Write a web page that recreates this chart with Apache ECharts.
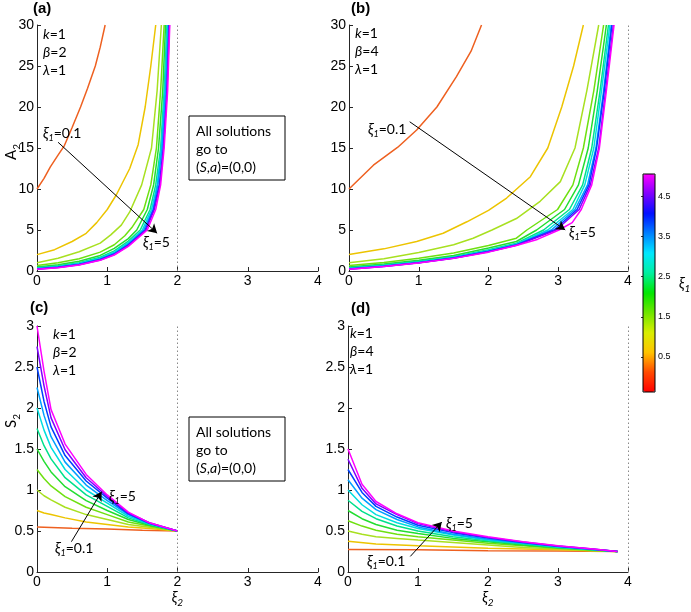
<!DOCTYPE html>
<html><head><meta charset="utf-8">
<script src="https://cdn.jsdelivr.net/npm/echarts@6/dist/echarts.min.js"></script>
<style>html,body{margin:0;padding:0;background:#fff}#c{width:691px;height:612px}</style>
</head><body><div id="c"></div>
<script>
// ---------- data ----------
const xi1Values = [0.1, 0.5, 1, 1.5, 2, 2.5, 3, 3.5, 4, 4.5, 5];
const curveColors = ['#ee6020','#ecc400','#a8e020','#6ee010','#22dd30','#00e08c','#00dede','#00a0ff','#0040ff','#8000ff','#ff00ff'];
const xTicks = [0, 1, 2, 3, 4];
const colorbarTicks = [0.5, 1.5, 2.5, 3.5, 4.5];
const colorbarRange = [-0.375, 5.06];
const colorbarStops = ['#ff0000','#ff4a00','#ffc400','#d8ee00','#6fe600','#00e600','#00f0a0','#00e8ff','#0080ff','#0010ff','#8000ff','#ff00ff'];

// panel (a): A2 vs xi2, beta=2
const panelA = [
  [[0,10],[0.1,11.3],[0.19,12.7],[0.29,14],[0.39,15.3],[0.5,17.5],[0.62,20],[0.72,22.3],[0.83,25],[0.9,27.3],[0.97,30]],
  [[0,2],[0.25,2.6],[0.5,3.6],[0.7,4.6],[0.85,5.9],[1,7.5],[1.13,9.3],[1.32,12.5],[1.44,15.4],[1.54,20],[1.62,25],[1.69,30]],
  [[0,1],[0.3,1.55],[0.6,2.35],[0.9,3.4],[1.05,4.4],[1.2,5.6],[1.32,7.2],[1.49,10.5],[1.63,15],[1.71,22],[1.77,30]],
  [[0,0.67],[0.3,1],[0.6,1.5],[0.9,2.3],[1.1,3.2],[1.25,4.3],[1.35,5.3],[1.52,7.5],[1.62,10.5],[1.7,15],[1.76,22],[1.81,30]],
  [[0,0.5],[0.3,0.77],[0.6,1.2],[0.9,1.9],[1.1,2.75],[1.3,3.95],[1.42,5],[1.57,7.5],[1.66,10.5],[1.73,15],[1.79,22],[1.83,30]],
  [[0,0.4],[0.3,0.63],[0.6,1.02],[0.9,1.68],[1.1,2.45],[1.3,3.65],[1.47,5],[1.61,7.5],[1.69,10.5],[1.76,15],[1.81,22],[1.85,30]],
  [[0,0.33],[0.3,0.55],[0.6,0.92],[0.9,1.55],[1.1,2.28],[1.3,3.45],[1.5,5],[1.63,7.5],[1.71,10.5],[1.77,15],[1.82,22],[1.86,30]],
  [[0,0.29],[0.3,0.5],[0.6,0.85],[0.9,1.46],[1.1,2.16],[1.3,3.3],[1.52,5],[1.65,7.5],[1.72,10.5],[1.78,15],[1.83,22],[1.87,30]],
  [[0,0.25],[0.3,0.46],[0.6,0.8],[0.9,1.4],[1.1,2.07],[1.3,3.2],[1.54,5],[1.66,7.5],[1.74,10.5],[1.8,15],[1.85,22],[1.88,30]],
  [[0,0.22],[0.3,0.43],[0.6,0.76],[0.9,1.35],[1.1,2],[1.3,3.1],[1.55,5],[1.67,7.5],[1.75,10.5],[1.8,15],[1.85,22],[1.885,30]],
  [[0,0.2],[0.3,0.4],[0.6,0.72],[0.9,1.3],[1.1,1.95],[1.3,3],[1.57,5],[1.69,7.5],[1.76,10.5],[1.81,15],[1.86,22],[1.89,30]]
];
// panel (b): A2 vs xi2, beta=4
const panelB = [
  [[0,10],[0.35,12.9],[0.7,15.1],[0.97,17.2],[1.26,20],[1.54,23.7],[1.75,26.8],[1.9,30]],
  [[0,2],[0.5,2.7],[0.97,3.6],[1.35,4.6],[1.69,6],[2,7.4],[2.26,8.9],[2.6,11.5],[2.85,15],[3.05,20],[3.22,25],[3.36,30]],
  [[0,1],[0.5,1.5],[1,2.25],[1.5,3.2],[1.78,4],[2.05,5],[2.4,6.4],[2.74,8.5],[3.03,10.9],[3.24,15],[3.41,22],[3.58,30]],
  [[0,0.67],[0.5,1.05],[1,1.55],[1.5,2.2],[2,3.1],[2.4,4],[2.55,5],[2.99,7.5],[3.21,10.5],[3.36,15],[3.51,22],[3.65,30]],
  [[0,0.5],[0.5,0.85],[1,1.3],[1.5,1.9],[2,2.8],[2.4,3.6],[2.69,5],[3.09,7.5],[3.29,10.5],[3.43,15],[3.56,22],[3.69,30]],
  [[0,0.4],[0.5,0.73],[1,1.18],[1.5,1.75],[2,2.6],[2.4,3.4],[2.79,5],[3.16,7.5],[3.35,10.5],[3.48,15],[3.6,22],[3.72,30]],
  [[0,0.33],[0.5,0.66],[1,1.1],[1.5,1.67],[2,2.5],[2.4,3.3],[2.85,5],[3.21,7.5],[3.38,10.5],[3.51,15],[3.62,22],[3.74,30]],
  [[0,0.29],[0.5,0.61],[1,1.05],[1.5,1.62],[2,2.43],[2.4,3.22],[2.9,5],[3.24,7.5],[3.42,10.5],[3.54,15],[3.65,22],[3.76,30]],
  [[0,0.25],[0.5,0.58],[1,1.02],[1.5,1.58],[2,2.38],[2.4,3.17],[2.94,5],[3.27,7.5],[3.44,10.5],[3.55,15],[3.66,22],[3.77,30]],
  [[0,0.22],[0.5,0.56],[1,1],[1.5,1.56],[2,2.34],[2.4,3.13],[2.97,5],[3.3,7.5],[3.46,10.5],[3.58,15],[3.68,22],[3.79,30]],
  [[0,0.2],[0.5,0.54],[1,0.98],[1.5,1.54],[2,2.3],[2.4,3.1],[2.7,3.85],[3.01,5],[3.2,5.9],[3.33,7.5],[3.48,10.5],[3.59,15],[3.69,22],[3.8,30]]
];
// panel (c): S2 vs xi2, beta=2
const panelC = [
  [[0,0.55],[0.5,0.535],[1,0.525],[1.5,0.51],[2,0.5]],
  [[0,0.75],[0.1,0.72],[0.2,0.7],[0.4,0.66],[0.7,0.61],[1,0.58],[1.3,0.55],[1.6,0.53],[2,0.5]],
  [[0,1],[0.1,0.93],[0.2,0.88],[0.4,0.79],[0.7,0.7],[1,0.64],[1.3,0.58],[1.6,0.545],[2,0.5]],
  [[0,1.25],[0.1,1.14],[0.2,1.05],[0.4,0.92],[0.7,0.79],[1,0.7],[1.3,0.61],[1.6,0.56],[2,0.5]],
  [[0,1.5],[0.1,1.35],[0.2,1.22],[0.4,1.04],[0.7,0.87],[1,0.75],[1.3,0.64],[1.6,0.57],[2,0.5]],
  [[0,1.75],[0.1,1.54],[0.2,1.38],[0.4,1.15],[0.7,0.94],[1,0.8],[1.3,0.66],[1.6,0.58],[2,0.5]],
  [[0,2],[0.1,1.73],[0.2,1.52],[0.4,1.25],[0.7,1],[1,0.84],[1.3,0.68],[1.6,0.585],[2,0.5]],
  [[0,2.25],[0.1,1.91],[0.2,1.65],[0.4,1.34],[0.7,1.06],[1,0.87],[1.3,0.7],[1.6,0.59],[2,0.5]],
  [[0,2.5],[0.1,2.08],[0.2,1.77],[0.4,1.42],[0.7,1.11],[1,0.9],[1.3,0.71],[1.6,0.595],[2,0.5]],
  [[0,2.75],[0.1,2.27],[0.2,1.88],[0.4,1.49],[0.7,1.15],[1,0.92],[1.3,0.72],[1.6,0.6],[2,0.5]],
  [[0,3],[0.1,2.45],[0.2,1.98],[0.4,1.56],[0.7,1.19],[1,0.94],[1.3,0.73],[1.6,0.6],[2,0.5]]
];
// panel (d): S2 vs xi2, beta=4
const panelD = [
  [[0,0.275],[1,0.27],[2,0.26],[3,0.255],[3.85,0.25]],
  [[0,0.375],[0.4,0.34],[1,0.32],[2,0.29],[3,0.27],[3.85,0.25]],
  [[0,0.5],[0.2,0.46],[0.4,0.43],[0.7,0.41],[1,0.39],[1.5,0.36],[2,0.33],[2.5,0.3],[3,0.28],[3.5,0.26],[3.85,0.25]],
  [[0,0.625],[0.2,0.56],[0.4,0.51],[0.7,0.46],[1,0.43],[1.5,0.39],[2,0.35],[2.5,0.32],[3,0.29],[3.5,0.265],[3.85,0.25]],
  [[0,0.75],[0.2,0.65],[0.4,0.58],[0.7,0.51],[1,0.47],[1.5,0.41],[2,0.37],[2.5,0.33],[3,0.295],[3.5,0.27],[3.85,0.25]],
  [[0,0.875],[0.2,0.74],[0.4,0.65],[0.7,0.56],[1,0.5],[1.5,0.43],[2,0.38],[2.5,0.34],[3,0.3],[3.5,0.27],[3.85,0.25]],
  [[0,1],[0.2,0.82],[0.4,0.7],[0.7,0.6],[1,0.53],[1.5,0.45],[2,0.39],[2.5,0.35],[3,0.305],[3.5,0.275],[3.85,0.25]],
  [[0,1.125],[0.2,0.9],[0.4,0.76],[0.7,0.64],[1,0.55],[1.5,0.46],[2,0.4],[2.5,0.355],[3,0.31],[3.5,0.275],[3.85,0.25]],
  [[0,1.25],[0.2,0.97],[0.4,0.8],[0.7,0.67],[1,0.57],[1.5,0.48],[2,0.415],[2.5,0.36],[3,0.315],[3.5,0.278],[3.85,0.25]],
  [[0,1.375],[0.2,1.02],[0.4,0.83],[0.7,0.7],[1,0.59],[1.5,0.49],[2,0.42],[2.5,0.365],[3,0.318],[3.5,0.28],[3.85,0.25]],
  [[0,1.5],[0.2,1.07],[0.4,0.86],[0.7,0.71],[1,0.6],[1.5,0.5],[2,0.43],[2.5,0.37],[3,0.32],[3.5,0.28],[3.85,0.25]]
];
// annotation arrows (data coords) and dotted limits
const arrowsAB = [[[0.30,15.7],[1.71,4.6]], [[0.87,18.2],[3.1,5.0]]];
const arrowsCD = [[[0.49,0.37],[0.92,0.98]], [[0.89,0.19],[1.34,0.61]]];
const dottedX = [2, 4, 2, 4];
const betaValues = [2, 4, 2, 4];

// ---------- chart ----------
const chart = echarts.init(document.getElementById('c'), null, {renderer: 'canvas'});
const AX = '#262626';
const tickFont = 'Liberation Sans';
const labelFont = 'Lato';

const grids = [
  {left: 37, top: 25, width: 281, height: 246},
  {left: 349, top: 25, width: 279, height: 246},
  {left: 37, top: 326, width: 281, height: 246},
  {left: 348, top: 326, width: 280, height: 246},
  {left: 643, top: 174, width: 12, height: 218, show: true, borderColor: '#000', borderWidth: 1, backgroundColor: 'transparent', z: 10}
].map(g => Object.assign({outerBoundsMode: 'none', containLabel: false}, g));

const subRich = {
  m: {fontSize: 15, fontFamily: labelFont, lineHeight: 22, color: '#000'},
  mi: {fontSize: 15, fontFamily: labelFont, fontStyle: 'italic', lineHeight: 22, color: '#000'},
  s: {fontSize: 10, fontFamily: labelFont, lineHeight: 10, verticalAlign: 'bottom', color: '#000'},
  si: {fontSize: 10, fontFamily: labelFont, fontStyle: 'italic', lineHeight: 10, verticalAlign: 'bottom', color: '#000'}
};

function xAxisFor(i) {
  const ax = {
    type: 'value', gridIndex: i, min: xTicks[0], max: xTicks[xTicks.length - 1], interval: 1,
    axisLine: {show: true, onZero: false, lineStyle: {color: AX, width: 1}},
    axisTick: {show: true, inside: true, length: 4, lineStyle: {color: AX}},
    axisLabel: {color: '#000', fontSize: 14, fontFamily: tickFont, margin: 3},
    splitLine: {show: false}
  };
  if (i >= 2) {
    ax.name = '{mi|ξ}{si|2}';
    ax.nameLocation = 'middle';
    ax.nameGap = 14;
    ax.nameMoveOverlap = false;
    ax.nameTextStyle = {rich: subRich};
  }
  return ax;
}
function yAxisFor(i) {
  const top = i < 2;
  const ax = {
    type: 'value', gridIndex: i, min: 0, max: top ? 30 : 3, interval: top ? 5 : 0.5,
    axisLine: {show: true, onZero: false, lineStyle: {color: AX, width: 1}},
    axisTick: {show: true, inside: true, length: 4, lineStyle: {color: AX}},
    axisLabel: {color: '#000', fontSize: 14, fontFamily: tickFont, margin: 3},
    splitLine: {show: false}
  };
  if (i === 0) {
    ax.name = '{m|A}{s|2}';
    ax.nameTextStyle = {rich: subRich, padding: [0, 8, 0, 0]};
  }
  if (i === 2) {
    ax.name = '{m|S}{s|2}';
    ax.nameTextStyle = {rich: subRich, padding: [0, 0, 0, 56]};
  }
  if (i === 0 || i === 2) {
    ax.nameLocation = 'middle'; ax.nameGap = 15; ax.nameRotate = 90;
    ax.nameMoveOverlap = false;
  }
  return ax;
}

const xAxes = [0,1,2,3].map(xAxisFor);
const yAxes = [0,1,2,3].map(yAxisFor);
xAxes.push({type: 'value', gridIndex: 4, show: false, min: 0, max: 1});
yAxes.push({
  type: 'value', gridIndex: 4, position: 'right', min: colorbarRange[0], max: colorbarRange[1],
  axisLine: {show: false},
  axisTick: {show: true, inside: true, length: 2, customValues: colorbarTicks, lineStyle: {color: '#333'}},
  axisLabel: {show: true, customValues: colorbarTicks, fontSize: 9, fontFamily: tickFont, color: '#000', margin: 3},
  splitLine: {show: false},
  name: '{mi|ξ}{si|1}', nameLocation: 'middle', nameRotate: 0, nameGap: 24, nameMoveOverlap: false,
  nameTextStyle: {rich: subRich}
});

const panels = [panelA, panelB, panelC, panelD];
const arrows = arrowsAB.concat(arrowsCD);
const series = [];
panels.forEach((curves, p) => {
  curves.forEach((pts, i) => {
    const s = {
      type: 'line', name: 'xi1=' + xi1Values[i], xAxisIndex: p, yAxisIndex: p,
      data: pts, showSymbol: false, symbol: 'none', silent: true, animation: false,
      lineStyle: {color: curveColors[i], width: 1.5}, z: 2
    };
    if (i === 0) {
      s.markLine = {
        silent: true, symbol: 'none', animation: false, label: {show: false},
        lineStyle: {color: '#888', type: [1.5, 2.5], width: 1},
        data: [{xAxis: dottedX[p]}]
      };
    }
    if (i === curves.length - 1) {
      s.markLine = {
        silent: true, symbol: ['none', 'arrow'], symbolSize: [8, 9], animation: false,
        label: {show: false}, z: 5,
        lineStyle: {color: '#000', type: 'solid', width: 1},
        data: [[{coord: arrows[p][0]}, {coord: arrows[p][1]}]]
      };
    }
    series.push(s);
  });
});
series.push({type: 'scatter', xAxisIndex: 4, yAxisIndex: 4, data: [], silent: true});
const dummyIndex = series.length - 1;

function xiText(x, y, val) {
  return {
    type: 'text', x: x, y: y, silent: true, z: 20,
    style: {
      text: '{i|ξ}{s|1}=' + val, fontSize: 14, fontFamily: labelFont, fill: '#000',
      verticalAlign: 'middle', align: 'left',
      rich: {
        i: {fontStyle: 'italic', fontSize: 15, fontFamily: labelFont, lineHeight: 20},
        s: {fontStyle: 'italic', fontSize: 9, fontFamily: labelFont, lineHeight: 9, verticalAlign: 'bottom'}
      }
    }
  };
}
function paramText(x, y, sym, val) {
  return {
    type: 'text', x: x, y: y, silent: true, z: 20,
    style: {
      text: '{i|' + sym + '}=' + val, fontSize: 14, fontFamily: labelFont, fill: '#000',
      verticalAlign: 'middle', align: 'left',
      rich: {i: {fontStyle: 'italic', fontSize: 14, fontFamily: labelFont}}
    }
  };
}
function paramBlock(x, y0, beta) {
  return [paramText(x, y0, 'k', 1), paramText(x, y0 + 18.5, 'β', beta), paramText(x, y0 + 36, 'λ', 1)];
}
function solutionBox(x, y) {
  return [
    {type: 'rect', shape: {x: x, y: y, width: 96, height: 64}, silent: true, z: 15,
     style: {fill: '#fff', stroke: '#000', lineWidth: 1}},
    {type: 'text', x: x + 7, y: y + 15, silent: true, z: 20,
     style: {text: 'All solutions', fontSize: 14, fontFamily: labelFont, fill: '#000', verticalAlign: 'middle'}},
    {type: 'text', x: x + 7, y: y + 33, silent: true, z: 20,
     style: {text: 'go to', fontSize: 14, fontFamily: labelFont, fill: '#000', verticalAlign: 'middle'}},
    {type: 'text', x: x + 7, y: y + 51, silent: true, z: 20,
     style: {text: '({i|S},{i|a})=(0,0)', fontSize: 14, fontFamily: labelFont, fill: '#000', verticalAlign: 'middle',
             rich: {i: {fontStyle: 'italic', fontSize: 14, fontFamily: labelFont}}}}
  ];
}
function panelLabel(x, y, t) {
  return {type: 'text', x: x, y: y, silent: true, z: 20,
    style: {text: t, font: 'bold 15px "Liberation Sans"', fill: '#000', verticalAlign: 'middle'}};
}

const graphics = [].concat(
  [panelLabel(33, 9, '(a)'), panelLabel(351, 9, '(b)'), panelLabel(30, 308, '(c)'), panelLabel(351, 309, '(d)')],
  paramBlock(43, 34, betaValues[0]), paramBlock(355, 33, betaValues[1]),
  paramBlock(53, 334, betaValues[2]), paramBlock(350, 333, betaValues[3]),
  solutionBox(189, 116), solutionBox(189, 417),
  [xiText(43, 133, '0.1'), xiText(143, 242, '5'),
   xiText(368, 129, '0.1'), xiText(569, 232, '5'),
   xiText(109, 496, '5'), xiText(55, 548, '0.1'),
   xiText(446, 523, '5'), xiText(367, 561, '0.1')]
);

chart.setOption({
  animation: false,
  backgroundColor: '#fff',
  grid: grids,
  xAxis: xAxes,
  yAxis: yAxes,
  visualMap: {
    type: 'continuous', seriesIndex: dummyIndex, min: colorbarRange[0], max: colorbarRange[1],
    orient: 'vertical', left: 643, top: 174, itemWidth: 12, itemHeight: 218,
    calculable: false, showLabel: false, text: null, padding: 0, hoverLink: false,
    inRange: {color: colorbarStops}, z: 5
  },
  series: series,
  graphic: graphics
});
</script></body></html>
